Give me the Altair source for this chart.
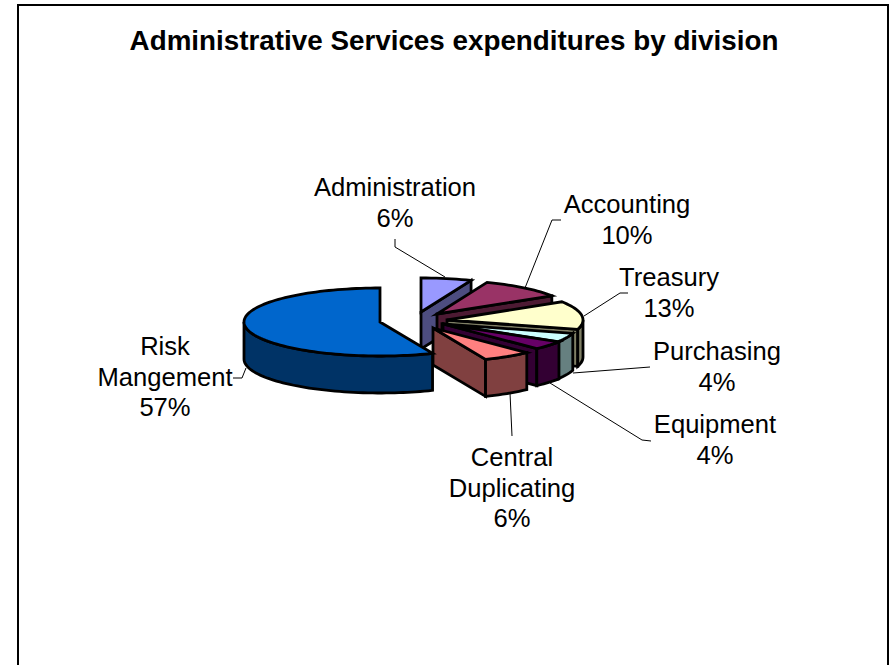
import math
import altair as alt

# Division names and their share of spending (percent), in clockwise order from 12 o'clock
divisions = ["Administration", "Accounting", "Treasury", "Purchasing", "Equipment",
             "Central\nDuplicating", "Risk\nMangement"]
shares = [6, 10, 13, 4, 4, 6, 57]

TITLE = "Administrative Services expenditures by division"

# Slice styling: top face and shaded side colours
top_colors = ["#9999FF", "#993366", "#FFFFCC", "#CCFFFF", "#660066", "#FF8080", "#0066CC"]
side_colors = ["#4D4D80", "#4D1A33", "#808066", "#668080", "#330033", "#804040", "#003366"]

# Pie geometry in pixels: where each exploded slice has its tip
tips = [(421, 312), (437, 314), (447, 320), (442, 324), (443, 324), (433, 328), (380, 322)]
RX, RY, DEPTH = 136, 34, 37
FORESHORTEN = 3.2  # degrees of angular squeeze on the front right quadrant


def rim(tip, deg):
    warp = FORESHORTEN * abs(math.sin(math.radians(2 * deg))) if 90 < deg < 180 else 0
    a = math.radians(deg + warp)
    return (tip[0] + RX * math.sin(a), tip[1] - RY * math.cos(a))


# Label centres and leader paths in pixels
label_centers = [(395, 188), (627, 205), (669, 278), (717, 352), (715, 425), (512, 458), (165, 347)]
LINE_STEP = 30.5
leaders = [
    [(395, 239), (395, 247), (445, 277)],
    [(561, 220), (552, 220), (525, 288)],
    [(628, 293), (620, 293), (584, 316)],
    [(650, 367), (573, 373)],
    [(651, 441), (642, 440), (550, 383)],
    [(512, 436), (510, 393)],
    [(233, 378), (242, 378), (246, 368)],
]


def arc(tip, start, end):
    n = max(2, int((end - start) / 2) + 1)
    return [rim(tip, start + (end - start) * i / (n - 1)) for i in range(n)]


def drop(points):
    return [(x, y + DEPTH) for x, y in points]


def feature(points, fill):
    ring = [list(p) for p in points] + [list(points[0])]
    return {"type": "Feature", "properties": {"fill": fill},
            "geometry": {"type": "Polygon", "coordinates": [ring]}}


# Build the faces back to front so nearer slices paint over farther ones
faces = []
angle = 0.0
for share, tip, top, side in zip(shares, tips, top_colors, side_colors):
    start, end = angle, angle + share * 3.6
    angle = end
    # Cut face on the clockwise side, visible when it points at the viewer
    if end < 180:
        corner = rim(tip, end)
        faces.append(feature([tip, corner, (corner[0], corner[1] + DEPTH), (tip[0], tip[1] + DEPTH)], side))
    # Outer rim wall on the front half of the ellipse
    lo, hi = max(start, 90), min(end, 270)
    if lo < hi:
        edge = arc(tip, lo, hi)
        faces.append(feature(edge + drop(edge)[::-1], side))
    faces.append(feature([tip] + arc(tip, start, end), top))

x_scale = alt.Scale(domain=[0, 891], range=[0, 891], nice=False, zero=False)
y_scale = alt.Scale(domain=[0, 665], range=[0, 665], nice=False, zero=False)
X = alt.X("x:Q", scale=x_scale, axis=None)
Y = alt.Y("y:Q", scale=y_scale, axis=None)

pie = alt.Chart(alt.Data(values=faces)).mark_geoshape(
    stroke="#000000", strokeWidth=2.8, strokeJoin="miter", strokeMiterLimit=6
).encode(
    fill=alt.Fill("properties.fill:N", scale=None)
).project(type="identity", scale=1, translate=[0, 0])

leader_rows = [
    {"x": x, "y": y, "leader": i, "seq": j}
    for i, path in enumerate(leaders) for j, (x, y) in enumerate(path)
]
leader_lines = alt.Chart(alt.Data(values=leader_rows)).mark_line(
    color="#000000", strokeWidth=1
).encode(x=X, y=Y, detail="leader:N", order="seq:Q")

label_rows = []
for name, share, (cx, cy) in zip(divisions, shares, label_centers):
    for k, line in enumerate(name.split("\n") + [f"{share}%"]):
        label_rows.append({"x": cx, "y": cy + k * LINE_STEP, "text": line})
labels = alt.Chart(alt.Data(values=label_rows)).mark_text(
    font="Liberation Sans", fontSize=25.6, color="#000000", align="center", baseline="middle"
).encode(x=X, y=Y, text="text:N")

title = alt.Chart(alt.Data(values=[{"x": 454, "y": 42, "text": TITLE}])).mark_text(
    font="Liberation Sans", fontSize=27.8, fontWeight="bold", color="#000000",
    align="center", baseline="middle"
).encode(x=X, y=Y, text="text:N")

# Chart frame: left, top and right edges, the bottom runs off the page
frame_rows = [
    {"x": 18, "y": 665, "edge": "f", "seq": 0},
    {"x": 18, "y": 5, "edge": "f", "seq": 1},
    {"x": 888, "y": 5, "edge": "f", "seq": 2},
    {"x": 888, "y": 665, "edge": "f", "seq": 3},
]
frame = alt.Chart(alt.Data(values=frame_rows)).mark_line(
    color="#000000", strokeWidth=2
).encode(x=X, y=Y, detail="edge:N", order="seq:Q")

chart = alt.layer(frame, leader_lines, pie, labels, title).properties(
    width=891, height=665, padding=0, autosize=alt.AutoSizeParams(type="none")
).configure_view(stroke=None)

chart.save("out.html", embed_options={"renderer": "svg", "actions": False})
